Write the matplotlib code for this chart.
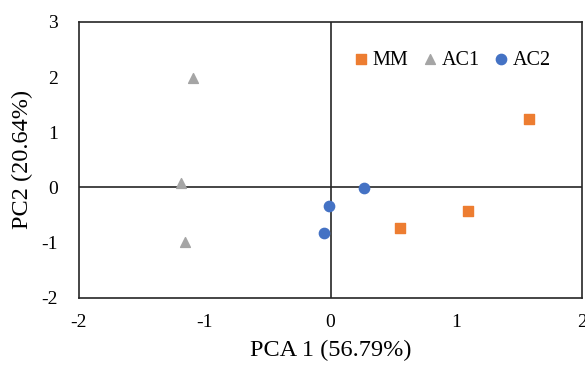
import matplotlib.pyplot as plt

# PCA scores
mm_x = [1.58, 0.55, 1.09]
mm_y = [1.24, -0.74, -0.43]
ac1_x = [-1.09, -1.19, -1.16]
ac1_y = [1.99, 0.08, -1.00]
ac2_x = [0.27, -0.01, -0.05]
ac2_y = [-0.01, -0.34, -0.83]

plt.rcParams['font.family'] = ['Liberation Serif', 'DejaVu Serif']

fig = plt.figure(figsize=(5.85, 3.66), dpi=100)
ax = fig.add_axes([0.135, 0.187, 0.86, 0.753])

ax.scatter(mm_x, mm_y, marker='s', s=44, color='#ED7D31', label='MM', zorder=3)
ax.scatter(ac1_x, ac1_y, marker='^', s=50, color='#A5A5A5', label='AC1', zorder=3)
ax.scatter(ac2_x, ac2_y, marker='o', s=55, color='#4472C4', label='AC2', zorder=3)

ax.set_xlim(-2, 2)
ax.set_ylim(-2, 3)
ax.set_xticks([-2, -1, 0, 1, 2])
ax.set_yticks([-2, -1, 0, 1, 2, 3])
ax.set_xticklabels(['-2', '-1', '0', '1', '2'])
ax.set_yticklabels(['-2', '-1', '0', '1', '2', '3'])
ax.tick_params(length=0, labelsize=14)
ax.tick_params(axis='x', pad=12)
ax.tick_params(axis='y', pad=15)

# axes crossing at zero, like Excel
ax.axhline(0, color='#262626', lw=1.2, zorder=2)
ax.axvline(0, color='#262626', lw=1.2, zorder=2)
for s in ax.spines.values():
    s.set_color('#262626')
    s.set_linewidth(1.2)

ax.set_xlabel('PCA 1 (56.79%)', fontsize=17.5, labelpad=6)
ax.set_ylabel('PC2 (20.64%)', fontsize=17.5, labelpad=6)

ax.legend(loc='center left', bbox_to_anchor=(0.546, 0.862), ncol=3, frameon=False,
          fontsize=14.5, handlelength=0.7, handletextpad=0.25, columnspacing=0.7,
          borderaxespad=0, borderpad=0)

plt.savefig('out.png')
